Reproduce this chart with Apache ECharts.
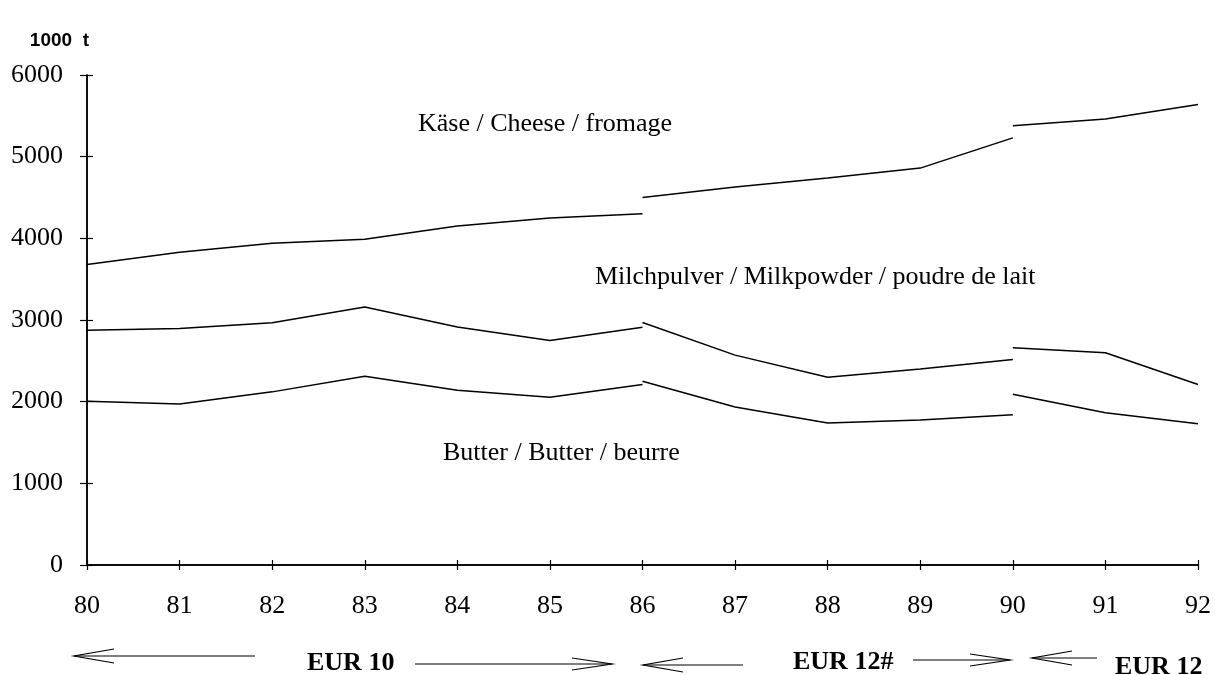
<!DOCTYPE html>
<html>
<head>
<meta charset="utf-8">
<script src="https://cdn.jsdelivr.net/npm/echarts@6/dist/echarts.min.js"></script>
<style>
  html, body { margin: 0; padding: 0; background: #fff; }
  #chart { width: 1215px; height: 675px; }
</style>
</head>
<body>
<div id="chart"></div>
<script>
// years on the x axis
var years = ['80', '81', '82', '83', '84', '85', '86', '87', '88', '89', '90', '91', '92'];
var yTicks = [0, 1000, 2000, 3000, 4000, 5000, 6000];

// Käse / Cheese: EUR 10 (80-86), EUR 12# (86-90), EUR 12 (90-92)
var cheeseEur10 = [3680, 3830, 3940, 3990, 4150, 4250, 4300];
var cheeseEur12h = [4500, 4630, 4740, 4860, 5230];
var cheeseEur12 = [5380, 5460, 5640];

// Milchpulver / Milkpowder
var milkEur10 = [2875, 2895, 2965, 3160, 2915, 2750, 2910];
var milkEur12h = [2970, 2570, 2300, 2400, 2515];
var milkEur12 = [2660, 2600, 2210];

// Butter
var butterEur10 = [2005, 1970, 2120, 2310, 2140, 2055, 2210];
var butterEur12h = [2250, 1935, 1740, 1775, 1840];
var butterEur12 = [2090, 1865, 1730];

var serif = '"Liberation Serif", "Times New Roman", serif';

function seg(name, start, values) {
    return {
        type: 'line',
        name: name,
        data: values.map(function (v, i) { return [start + i, v]; }),
        symbol: 'none',
        silent: true,
        lineStyle: { color: '#000', width: 1.5 }
    };
}

function arrow(x1, x2, y, head) {
    // open arrow head at the x1 end
    var d = x1 < x2 ? 40 : -40;
    return [
        { type: 'line', shape: { x1: x1, y1: y, x2: x2, y2: y }, style: { stroke: '#000', lineWidth: 1.2 } },
        { type: 'polyline', shape: { points: [[x1 + d, y - head], [x1, y], [x1 + d, y + head]] }, style: { stroke: '#000', lineWidth: 1.2, fill: null } }
    ];
}

function label(text, x, y, bold) {
    return {
        type: 'text',
        style: {
            text: text, x: x, y: y,
            font: (bold ? 'bold ' : '') + '26px ' + serif,
            fill: '#000',
            verticalAlign: 'middle'
        }
    };
}

var chart = echarts.init(document.getElementById('chart'));

var graphics = [
    label('Käse / Cheese / fromage', 418, 124),
    label('Milchpulver / Milkpowder / poudre de lait', 595, 277),
    label('Butter / Butter / beurre', 443, 453),
    label('EUR 10', 307, 663, true),
    label('EUR 12#', 793, 662, true),
    label('EUR 12', 1115, 667, true)
];
graphics = graphics
    .concat(arrow(74, 255, 656, 7))
    .concat(arrow(612, 415, 664, 6))
    .concat(arrow(643, 743, 665, 7))
    .concat(arrow(1010, 913, 660, 6))
    .concat(arrow(1032, 1097, 658, 7));

var tickStyle = { color: '#000', width: 1.2 };
var lineStyle = { color: '#000', width: 1.5 };

chart.setOption({
    animation: false,
    backgroundColor: '#fff',
    grid: { left: 87, right: 17, top: 75, bottom: 110 },
    xAxis: [{
        type: 'category',
        data: years,
        boundaryGap: false,
        axisLine: { lineStyle: lineStyle },
        axisTick: { length: 5, lineStyle: tickStyle },
        axisLabel: { color: '#000', fontFamily: serif, fontSize: 26, margin: 28 },
        splitLine: { show: false }
    }, {
        type: 'category',
        data: years,
        position: 'bottom',
        boundaryGap: false,
        axisLine: { show: true, lineStyle: lineStyle },
        axisTick: { show: true, inside: true, length: 5, lineStyle: tickStyle },
        axisLabel: { show: false },
        splitLine: { show: false }
    }],
    yAxis: [{
        type: 'value',
        min: yTicks[0],
        max: yTicks[yTicks.length - 1],
        interval: 1000,
        name: '1000  t',
        nameLocation: 'end',
        nameGap: 34,
        nameTextStyle: {
            color: '#000', fontFamily: '"Liberation Sans", Arial, sans-serif',
            fontWeight: 'bold', fontSize: 19, align: 'right', verticalAlign: 'middle', padding: [0, -2, 0, 0]
        },
        axisLine: { show: true, lineStyle: lineStyle },
        axisTick: { show: true, length: 7, lineStyle: tickStyle },
        axisLabel: {
            color: '#000', fontFamily: serif, fontSize: 26, margin: 24,
            formatter: function (v) { return String(v); }
        },
        splitLine: { show: false }
    }, {
        type: 'value',
        position: 'left',
        offset: 0,
        min: yTicks[0],
        max: yTicks[yTicks.length - 1],
        interval: 1000,
        axisLine: { show: true, lineStyle: lineStyle },
        axisTick: { show: true, inside: true, length: 6, lineStyle: tickStyle },
        axisLabel: { show: false },
        splitLine: { show: false }
    }],
    series: [
        seg('Käse EUR 10', 0, cheeseEur10),
        seg('Käse EUR 12#', 6, cheeseEur12h),
        seg('Käse EUR 12', 10, cheeseEur12),
        seg('Milchpulver EUR 10', 0, milkEur10),
        seg('Milchpulver EUR 12#', 6, milkEur12h),
        seg('Milchpulver EUR 12', 10, milkEur12),
        seg('Butter EUR 10', 0, butterEur10),
        seg('Butter EUR 12#', 6, butterEur12h),
        seg('Butter EUR 12', 10, butterEur12)
    ],
    graphic: graphics
});
</script>
</body>
</html>
